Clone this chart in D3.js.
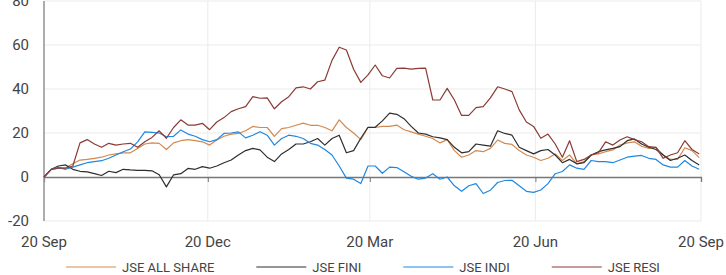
<!DOCTYPE html>
<html>
<head>
<meta charset="utf-8">
<script src="https://cdn.jsdelivr.net/npm/d3@7"></script>
<style>
  html, body { margin: 0; padding: 0; background: #fff; }
  svg { display: block; font-family: Roboto, "Noto Sans", sans-serif; }
</style>
</head>
<body>
<div id="chart"></div>
<script>
// ---- data (cumulative %, sampled every 4 days from 20 Sep 2020) ----
const startDate = new Date(Date.UTC(2020, 8, 20));
const endDate = new Date(Date.UTC(2021, 8, 20));
const stepDays = 4;

const allShare = [0, 3.5, 4, 4.2, 6, 7.7, 8, 8.5, 9, 10, 10.5, 11, 11, 13, 15, 15.5, 15.3, 12.5, 15.5, 16.5,
  17, 16.5, 16, 14.5, 16.8, 18.5, 19.5, 19.8, 21, 23, 22.5, 22.5, 18.5, 22, 22.5, 23.5, 24.5, 23.5, 23.5, 22.5,
  21, 26, 22.5, 20, 17, 22.5, 22.5, 23, 23, 23.6, 21.5, 20.5, 19.5, 18.5, 17.5, 15.5, 17, 12, 9, 10,
  12, 11.5, 13, 16.8, 15.3, 14.8, 12, 10, 9, 7.5, 8.5, 10.5, 7.5, 10, 6, 7, 10, 10.5, 11.5, 12.3,
  14.5, 15.5, 16, 14, 13, 13.5, 10, 8, 8, 13.3, 12, 8.8];

const fini = [0, 3.5, 5, 5.5, 3.5, 2.6, 2.3, 1.5, 0.7, 2.6, 2, 3.5, 3.2, 3, 3, 2.8, 1, -4.5, 1, 1.5,
  3.9, 3.5, 4.7, 4, 5, 6.5, 7.7, 10, 12, 13, 12.3, 9, 7, 10.5, 12.5, 15, 15, 16, 17.5, 14.5,
  17.5, 19, 11, 12, 17.6, 22.6, 22.6, 25.5, 29, 28.5, 26.5, 23, 20, 19.5, 18.3, 17.8, 17, 13.5, 11, 11.5,
  15, 14.5, 14, 21, 19.8, 19, 13.5, 12, 10.5, 12, 12.5, 10, 6.5, 8, 6, 6.5, 10, 11.5, 12.3, 13,
  13.8, 16.5, 17.3, 15, 13.5, 12.5, 10, 7.5, 8.5, 10, 7.5, 5.5];

const indi = [0, 3.5, 4.4, 3.5, 4.5, 5.5, 6.5, 7, 7.4, 8.5, 10, 11.5, 12.7, 16, 20.5, 20.3, 20, 18.3, 18.5, 21.4,
  19.5, 18.5, 17, 16, 17, 19.8, 20, 20.5, 17.8, 19, 20.6, 19, 14.5, 17.5, 19, 18.5, 17.5, 15.3, 14.5, 12.5,
  10, 5, -0.5, -1, -3, 5, 5, 1.7, 4.5, 4.3, 2.4, 0.3, -1, -0.5, 1.5, -1, 0, -4, -6.5, -4,
  -3, -7.5, -6, -2.5, -1.6, -1.5, -4, -6.5, -7, -5.9, -3, 1.5, 2.5, 5.5, 4, 3.5, 7.5, 7, 7, 6.5,
  7.7, 9, 9.5, 9.8, 8.5, 8, 5.5, 4.5, 4.5, 7.5, 5, 3.5];

const resi = [0, 3.5, 4, 4, 5, 15.5, 17, 15, 13.5, 15.3, 14.5, 15, 15.3, 13.5, 16, 18, 21, 17.6, 22.5, 26,
  23.6, 23.6, 24.4, 21.5, 25, 27, 29.7, 31, 32, 36.5, 35.8, 36, 31, 34.2, 36.5, 40.5, 41, 40, 43.3, 44,
  53, 59, 57.7, 49, 43, 46.4, 50.9, 46, 45, 49.4, 49.5, 49, 49.4, 49.5, 35, 35, 40.3, 35, 28, 28,
  31.5, 32, 36, 41, 40, 38.8, 30.5, 25, 23, 17.6, 19.5, 15, 9, 16.5, 7, 8, 10, 11, 16, 14.5,
  16.8, 18.3, 17, 16, 13.8, 13.5, 8.5, 10, 11, 16.5, 12.5, 10.5];

const seriesNames = ["JSE ALL SHARE", "JSE FINI", "JSE INDI", "JSE RESI"];
const seriesColors = ["#d3894f", "#2e2e2e", "#1f88e0", "#8a3b36"];
const yTicks = [-20, 0, 20, 40, 60, 80];
const xTicks = [
  new Date(Date.UTC(2020, 8, 20)), new Date(Date.UTC(2020, 11, 20)),
  new Date(Date.UTC(2021, 2, 20)), new Date(Date.UTC(2021, 5, 20)),
  new Date(Date.UTC(2021, 8, 20))
];

// ---- layout ----
const W = 726, H = 275;
const plotL = 44, plotR = 701, plotT = 1, plotB = 221;

const svg = d3.select("#chart").append("svg").attr("width", W).attr("height", H);

const x = d3.scaleUtc().domain([startDate, endDate]).range([plotL, plotR]);
const y = d3.scaleLinear().domain([-20, 80]).range([plotB, plotT]);

const dates = allShare.map((_, i) => d3.utcDay.offset(startDate, i * stepDays));
const series = [allShare, fini, indi, resi].map((vals, k) => ({
  name: seriesNames[k],
  color: seriesColors[k],
  values: vals.map((v, i) => ({ date: dates[i], value: v }))
}));

// grid
svg.append("g").selectAll("line").data(yTicks.filter(d => d !== 0)).join("line")
  .attr("x1", plotL).attr("x2", plotR)
  .attr("y1", d => y(d)).attr("y2", d => y(d))
  .attr("stroke", "#ebebeb").attr("stroke-width", 1);

svg.append("g").selectAll("line").data(xTicks.slice(1)).join("line")
  .attr("x1", d => x(d)).attr("x2", d => x(d))
  .attr("y1", plotT).attr("y2", plotB)
  .attr("stroke", "#ebebeb").attr("stroke-width", 1);

// y labels
svg.append("g").selectAll("text").data(yTicks).join("text")
  .attr("x", 29).attr("y", d => y(d)).attr("dy", "0.36em")
  .attr("text-anchor", "end")
  .attr("font-size", 15).attr("fill", "#444")
  .text(d => d);

// x axis at zero
const xAxis = d3.axisBottom(x).tickValues(xTicks).tickFormat(d3.utcFormat("%d %b"))
  .tickSize(5).tickPadding(0);
const gx = svg.append("g").attr("transform", `translate(0,${y(0)})`).call(xAxis);
gx.select(".domain").attr("stroke", "#777").attr("stroke-width", 1.3);
gx.selectAll(".tick line").attr("stroke", "#777");
gx.selectAll(".tick text").remove();

svg.append("g").selectAll("text").data(xTicks).join("text")
  .attr("x", d => x(d)).attr("y", 247)
  .attr("text-anchor", "middle")
  .attr("font-size", 15).attr("fill", "#444")
  .text(d => d3.utcFormat("%d %b")(d));

// left axis line
svg.append("line")
  .attr("x1", plotL).attr("x2", plotL).attr("y1", plotT).attr("y2", plotB)
  .attr("stroke", "#999").attr("stroke-width", 1.6);

// lines
const line = d3.line().x(d => x(d.date)).y(d => y(d.value));
svg.append("g").selectAll("path").data(series).join("path")
  .attr("d", d => line(d.values))
  .attr("fill", "none")
  .attr("stroke", d => d.color)
  .attr("stroke-width", 1.2)
  .attr("stroke-linejoin", "round");

// legend
const lg = svg.append("g");
const items = lg.selectAll("g").data(series).join("g");
items.append("line").attr("x1", 0).attr("x2", 50).attr("y1", 267).attr("y2", 267)
  .attr("stroke", d => d.color).attr("stroke-width", 1.2);
items.append("text").attr("x", 56).attr("y", 271.5)
  .attr("font-size", 13).attr("fill", "#444")
  .text(d => d.name);

const widths = [];
items.each(function () { widths.push(56 + d3.select(this).select("text").node().getComputedTextLength()); });
const gap = 42;
const total = d3.sum(widths) + gap * (widths.length - 1);
let cx = (W - total) / 2;
items.attr("transform", (d, i) => {
  const t = `translate(${cx},0)`;
  cx += widths[i] + gap;
  return t;
});
</script>
</body>
</html>
